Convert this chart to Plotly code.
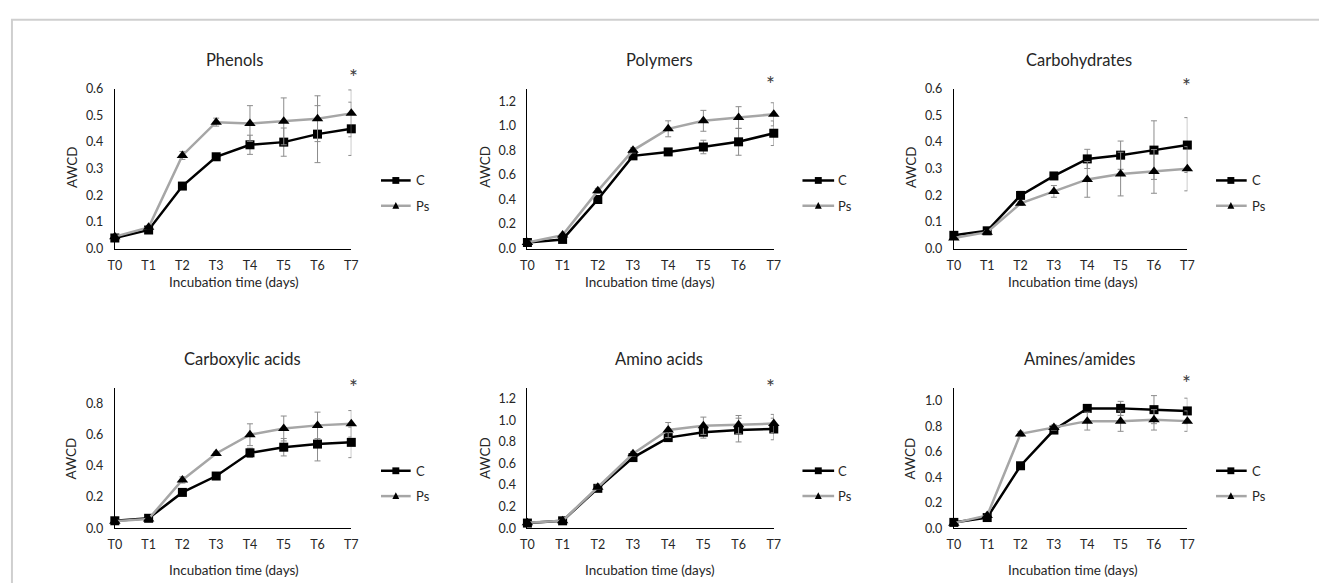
import plotly.graph_objects as go

W, H = 1319, 583

categories = ["T0", "T1", "T2", "T3", "T4", "T5", "T6", "T7"]
series_names = ["C", "Ps"]
titles = ["Phenols", "Polymers", "Carbohydrates", "Carboxylic acids", "Amino acids", "Amines/amides"]

phenols_c = [0.04, 0.07, 0.235, 0.345, 0.39, 0.40, 0.43, 0.45]
phenols_ps = [0.045, 0.08, 0.35, 0.475, 0.47, 0.478, 0.488, 0.508]
phenols_c_err = [0.005, 0.005, 0.005, 0.008, 0.036, 0.053, 0.107, 0.10]
phenols_ps_err = [0.005, 0.005, 0.015, 0.015, 0.067, 0.088, 0.086, 0.088]

polymers_c = [0.05, 0.075, 0.40, 0.755, 0.787, 0.827, 0.869, 0.939]
polymers_ps = [0.05, 0.11, 0.47, 0.80, 0.975, 1.04, 1.067, 1.093]
polymers_c_err = [0.01, 0.01, 0.02, 0.02, 0.02, 0.055, 0.109, 0.10]
polymers_ps_err = [0.01, 0.01, 0.02, 0.02, 0.065, 0.085, 0.088, 0.094]

carbo_c = [0.05, 0.067, 0.20, 0.273, 0.337, 0.351, 0.37, 0.389]
carbo_ps = [0.04, 0.062, 0.17, 0.215, 0.26, 0.28, 0.29, 0.30]
carbo_c_err = [0.005, 0.005, 0.008, 0.01, 0.036, 0.053, 0.11, 0.103]
carbo_ps_err = [0.005, 0.005, 0.008, 0.022, 0.067, 0.082, 0.082, 0.083]

carbox_c = [0.048, 0.064, 0.23, 0.335, 0.484, 0.52, 0.54, 0.551]
carbox_ps = [0.045, 0.06, 0.31, 0.48, 0.60, 0.64, 0.66, 0.67]
carbox_c_err = [0.005, 0.005, 0.01, 0.01, 0.03, 0.056, 0.108, 0.098]
carbox_ps_err = [0.005, 0.005, 0.02, 0.01, 0.07, 0.08, 0.085, 0.085]

amino_c = [0.048, 0.069, 0.37, 0.655, 0.84, 0.89, 0.91, 0.92]
amino_ps = [0.05, 0.07, 0.38, 0.69, 0.91, 0.95, 0.96, 0.97]
amino_c_err = [0.01, 0.01, 0.02, 0.02, 0.03, 0.055, 0.11, 0.10]
amino_ps_err = [0.01, 0.01, 0.02, 0.02, 0.07, 0.08, 0.085, 0.085]

amines_c = [0.046, 0.084, 0.49, 0.77, 0.94, 0.94, 0.93, 0.92]
amines_ps = [0.04, 0.10, 0.74, 0.79, 0.84, 0.84, 0.85, 0.84]
amines_c_err = [0.01, 0.01, 0.02, 0.02, 0.03, 0.055, 0.11, 0.10]
amines_ps_err = [0.01, 0.01, 0.02, 0.02, 0.07, 0.08, 0.08, 0.08]

y_max = [0.6, 1.3, 0.6, 0.9, 1.3, 1.1]
y_dtick = [0.1, 0.2, 0.1, 0.2, 0.2, 0.2]

panels = [
    (phenols_c, phenols_c_err, phenols_ps, phenols_ps_err),
    (polymers_c, polymers_c_err, polymers_ps, polymers_ps_err),
    (carbo_c, carbo_c_err, carbo_ps, carbo_ps_err),
    (carbox_c, carbox_c_err, carbox_ps, carbox_ps_err),
    (amino_c, amino_c_err, amino_ps, amino_ps_err),
    (amines_c, amines_c_err, amines_ps, amines_ps_err),
]

# layout in pixels
col_x = [(109, 348), (526, 775), (957, 1193)]
row_y = [(83, 247), (390, 534)]
title_pos = [(230, 53), (659, 53), (1083, 53), (238, 360), (659, 360), (1084, 360)]
star_pos = [(350, 70), (772, 77), (1192, 80), (350, 389), (772, 389), (1192, 384)]
awcd_x = [65, 483, 913]
awcd_y = [163, 462]
xtitle_x = [229, 650, 1077]
xtitle_y = [281, 577]
legend_geo = [(378, 408, 393, 411), (804, 836, 820, 838), (1222, 1253, 1237, 1256)]
legend_rows = [(177, 203), (475, 501)]

FONT = "Lato"
TXT = "#262626"
BLACK = "#000000"
GRAY = "#a6a6a6"
ERR = "#8c8c8c"

def px(x):
    return x / W

def py(y):
    return 1 - y / H

fig = go.Figure()
x_idx = list(range(len(categories)))

for i, (c, ce, p, pe) in enumerate(panels):
    r, col = divmod(i, 3)
    n = i + 1
    xa = "x" if n == 1 else f"x{n}"
    ya = "y" if n == 1 else f"y{n}"
    fig.add_trace(go.Scatter(
        x=x_idx, y=c, mode="lines+markers", name=series_names[0], xaxis=xa, yaxis=ya,
        line=dict(color=BLACK, width=2.5),
        marker=dict(symbol="square", size=9, color=BLACK),
        error_y=dict(type="data", array=ce, color=ERR, thickness=1, width=3),
        cliponaxis=False, showlegend=False))
    fig.add_trace(go.Scatter(
        x=x_idx, y=p, mode="lines+markers", name=series_names[1], xaxis=xa, yaxis=ya,
        line=dict(color=GRAY, width=2.5),
        marker=dict(symbol="triangle-up", size=10, color=BLACK),
        error_y=dict(type="data", array=pe, color=ERR, thickness=1, width=3),
        cliponaxis=False, showlegend=False))
    x0, x1 = col_x[col]
    y0, y1 = row_y[r]
    axis_common = dict(showgrid=False, zeroline=False, showline=True, linecolor=BLACK, linewidth=1)
    fig.layout[("xaxis" if n == 1 else f"xaxis{n}")] = dict(
        domain=[px(x0), px(x1)], anchor=ya, range=[0, 7],
        tickmode="array", tickvals=x_idx, ticktext=categories,
        ticks="", ticklabelstandoff=5,
        tickfont=dict(family=FONT, size=12.5, color=TXT), **axis_common)
    fig.layout[("yaxis" if n == 1 else f"yaxis{n}")] = dict(
        domain=[py(y1), py(y0)], anchor=xa, range=[0, y_max[i]],
        tick0=0, dtick=y_dtick[i], tickformat=".1f", ticks="", ticklabelstandoff=8,
        tickfont=dict(family=FONT, size=12.5, color=TXT), **axis_common)

annotations = []
for i, t in enumerate(titles):
    tx, ty = title_pos[i]
    annotations.append(dict(text=t, x=px(tx), y=py(ty), xref="paper", yref="paper",
                            showarrow=False, xanchor="center", yanchor="middle",
                            font=dict(family=FONT, size=16.5, color=TXT)))
    sx, sy = star_pos[i]
    annotations.append(dict(text="*", x=px(sx), y=py(sy), xref="paper", yref="paper",
                            showarrow=False, xanchor="center", yanchor="middle",
                            font=dict(family=FONT, size=21, color="#404040")))
for r in range(2):
    for col in range(3):
        annotations.append(dict(text="AWCD", x=px(awcd_x[col]), y=py(awcd_y[r]),
                                xref="paper", yref="paper", showarrow=False, textangle=-90,
                                xanchor="center", yanchor="middle",
                                font=dict(family=FONT, size=13.5, color=TXT)))
        annotations.append(dict(text="Incubation time (days)", x=px(xtitle_x[col]), y=py(xtitle_y[r]),
                                xref="paper", yref="paper", showarrow=False,
                                xanchor="center", yanchor="middle",
                                font=dict(family=FONT, size=13.5, color=TXT)))
        lx0, lx1, mx, tx = legend_geo[col]
        for k, ly in enumerate(legend_rows[r]):
            annotations.append(dict(text=series_names[k], x=px(tx), y=py(ly),
                                    xref="paper", yref="paper", showarrow=False,
                                    xanchor="left", yanchor="middle",
                                    font=dict(family=FONT, size=13, color=TXT)))

shapes = [dict(type="rect", xref="paper", yref="paper", x0=px(5), x1=px(1330), y0=py(12), y1=py(600),
               line=dict(color="#cfcfcf", width=2), fillcolor="rgba(0,0,0,0)")]
for r in range(2):
    for col in range(3):
        lx0, lx1, mx, tx = legend_geo[col]
        cy, py_ = legend_rows[r]
        shapes.append(dict(type="line", xref="paper", yref="paper", x0=px(lx0), x1=px(lx1),
                           y0=py(cy), y1=py(cy), line=dict(color=BLACK, width=2.5)))
        shapes.append(dict(type="rect", xref="paper", yref="paper", x0=px(mx - 3.5), x1=px(mx + 3.5),
                           y0=py(cy + 3.5), y1=py(cy - 3.5), line=dict(width=0), fillcolor=BLACK))
        shapes.append(dict(type="line", xref="paper", yref="paper", x0=px(lx0), x1=px(lx1),
                           y0=py(py_), y1=py(py_), line=dict(color=GRAY, width=2.5)))
        shapes.append(dict(type="path", xref="paper", yref="paper",
                           path=f"M {px(mx-3.5)},{py(py_+3)} L {px(mx+3.5)},{py(py_+3)} L {px(mx)},{py(py_-4)} Z",
                           line=dict(width=0), fillcolor=BLACK))

fig.update_layout(width=W, height=H, margin=dict(l=0, r=0, t=0, b=0),
                  paper_bgcolor="white", plot_bgcolor="white",
                  annotations=annotations, shapes=shapes, showlegend=False)

fig.write_html("out.html")
